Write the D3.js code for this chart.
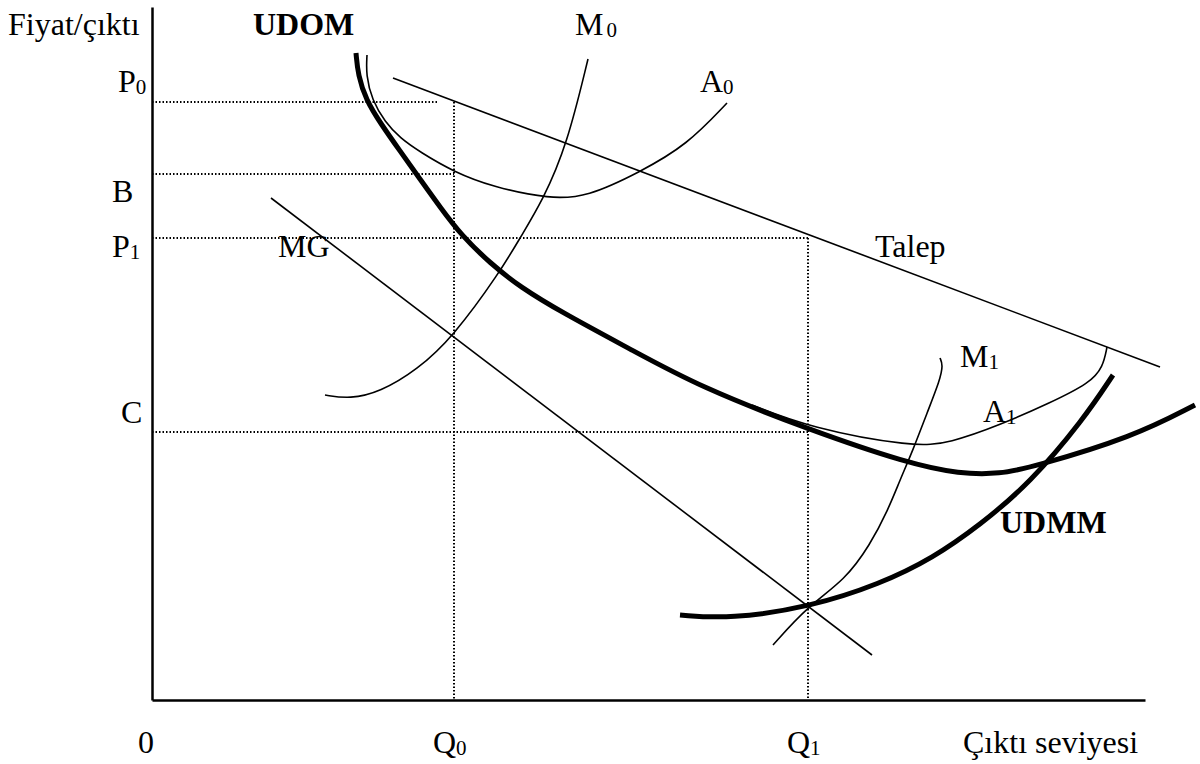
<!DOCTYPE html>
<html>
<head>
<meta charset="utf-8">
<script src="https://cdn.jsdelivr.net/npm/d3@7"></script>
<style>
  body { margin: 0; background: #fff; }
  svg text { font-family: "Liberation Serif", "Times New Roman", serif; font-size: 32px; fill: #000; }
  .axis path { stroke: #000; stroke-width: 2.5; }
  .axis line { display: none; }
  .curve { fill: none; stroke: #000; }
  .thin { stroke-width: 1.6; }
  .thick { stroke-width: 5; }
  .guide { fill: none; stroke: #000; stroke-width: 2; stroke-dasharray: 1.5 2; }
</style>
</head>
<body>
<div id="chart"></div>
<script>
// values, in output / price units (origin = 0,0)
const levels = { P0: 598, B: 526, P1: 462, C: 268 };
const quantities = { Q0: 302, Q1: 656 };

const talep = [[241, 622], [1008, 333]];
const mg = [[119, 502], [720, 45]];

const udom = [[204, 647], [206, 625], [214, 600], [229, 576], [248, 549], [268, 521], [288, 493],
    [310, 464], [338, 437], [368, 413], [411, 387], [478, 351], [548, 313], [658, 270],
    [755, 237], [808, 226], [848, 226], [881, 233], [981, 263], [1043, 295]];

const a0 = [[215, 645], [214, 625], [220, 600], [233, 578], [248, 562], [268, 548], [302, 528],
    [341, 513], [398, 501], [435, 503], [488, 528], [535, 555], [575, 597]];

const m0 = [[173, 305], [198, 301], [228, 308], [265, 330], [301, 363], [348, 428], [368, 462],
    [391, 500], [415, 555], [436, 641]];

const a1 = [[600, 295], [658, 272], [761, 253], [798, 257], [848, 275], [898, 297], [938, 317],
    [951, 333], [955, 353]];

const m1 = [[788, 342], [791, 335], [788, 320], [775, 287], [761, 250], [748, 220], [736, 190],
    [718, 155], [693, 120], [656, 94], [621, 55]];

const udmm = [[528, 85], [578, 81], [658, 93], [728, 116], [781, 142], [828, 175], [878, 217],
    [931, 280], [961, 325]];

const width = 1200, height = 764;

const svg = d3.select("#chart").append("svg")
    .attr("width", width)
    .attr("height", height);

const x = d3.scaleLinear().domain([0, 1000]).range([152, 1152]);
const y = d3.scaleLinear().domain([0, 700]).range([700, 0]);

// axes (no ticks, just the lines)
svg.append("g")
    .attr("class", "axis")
    .attr("transform", `translate(0,${y(0)})`)
    .call(d3.axisBottom(x.copy().domain([0, 993]).range([x(0), x(993)])).tickValues([]).tickSizeOuter(0));

svg.append("g")
    .attr("class", "axis")
    .attr("transform", `translate(${x(0)},0)`)
    .call(d3.axisLeft(y.copy().domain([0, 693]).range([y(0), y(693)])).tickValues([]).tickSizeOuter(0));

// dotted guides
const guides = [
    [[0, levels.P0], [286, levels.P0]],
    [[quantities.Q0, levels.P0], [quantities.Q0, 0]],
    [[0, levels.B], [quantities.Q0, levels.B]],
    [[0, levels.P1], [quantities.Q1, levels.P1]],
    [[quantities.Q1, levels.P1], [quantities.Q1, 0]],
    [[0, levels.C], [quantities.Q1, levels.C]]
];

const straight = d3.line().x(d => x(d[0])).y(d => y(d[1]));
const smooth = d3.line().x(d => x(d[0])).y(d => y(d[1])).curve(d3.curveBasis);

svg.selectAll(".guide")
    .data(guides)
    .join("path")
    .attr("class", "guide")
    .attr("d", straight);

// straight lines
svg.selectAll(".straight")
    .data([talep, mg])
    .join("path")
    .attr("class", "curve thin straight")
    .attr("d", straight);

// cost curves
const curves = [
    { pts: a0, cls: "thin" },
    { pts: m0, cls: "thin" },
    { pts: a1, cls: "thin" },
    { pts: m1, cls: "thin" },
    { pts: udom, cls: "thick" },
    { pts: udmm, cls: "thick" }
];

svg.selectAll(".cost")
    .data(curves)
    .join("path")
    .attr("class", d => "curve cost " + d.cls)
    .attr("d", d => smooth(d.pts));

// labels (pixel positions, baseline)
const labels = [
    { t: "Fiyat/çıktı", px: 8, py: 35 },
    { t: "UDOM", px: 253, py: 35, bold: true },
    { t: "M", sub: "0", px: 575, py: 35, gap: 3 },
    { t: "P", sub: "0", px: 118, py: 92 },
    { t: "A", sub: "0", px: 700, py: 92 },
    { t: "B", px: 112, py: 202 },
    { t: "P", sub: "1", px: 112, py: 257 },
    { t: "MG", px: 278, py: 257 },
    { t: "Talep", px: 875, py: 257 },
    { t: "M", sub: "1", px: 960, py: 367 },
    { t: "C", px: 121, py: 423 },
    { t: "A", sub: "1", px: 983, py: 422 },
    { t: "UDMM", px: 1000, py: 533, bold: true },
    { t: "0", px: 138, py: 753 },
    { t: "Q", sub: "0", px: 433, py: 753 },
    { t: "Q", sub: "1", px: 787, py: 753 },
    { t: "Çıktı seviyesi", px: 963, py: 753 }
];

const lab = svg.selectAll(".lab")
    .data(labels)
    .join("text")
    .attr("class", "lab")
    .attr("x", d => d.px)
    .attr("y", d => d.py)
    .style("font-weight", d => d.bold ? "bold" : null);

lab.append("tspan").text(d => d.t);
lab.filter(d => d.sub)
    .append("tspan")
    .attr("dx", d => d.gap || 0)
    .attr("dy", 2)
    .style("font-size", "21px")
    .text(d => d.sub);
</script>
</body>
</html>
